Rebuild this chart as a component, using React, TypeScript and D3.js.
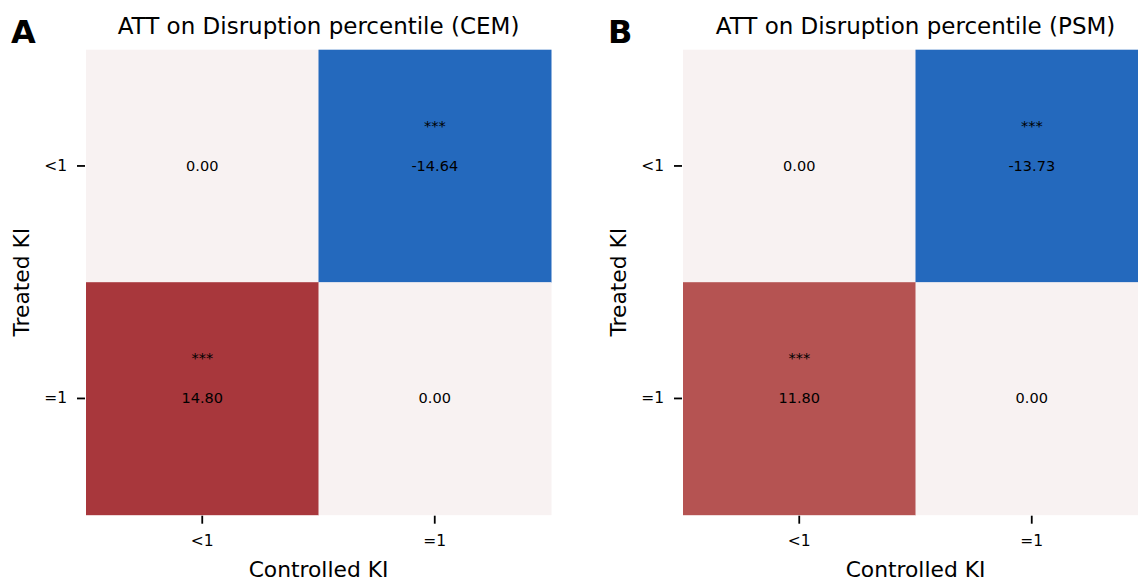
import React from "react";
import * as d3 from "d3";

const rowLabels = ["<1", "=1"];
const colLabels = ["<1", "=1"];
const panelLetters = ["A", "B"];
const panelTitles = [
  "ATT on Disruption percentile (CEM)",
  "ATT on Disruption percentile (PSM)",
];
// values[row][col]
const cemValues = [
  [0.0, -14.64],
  [14.8, 0.0],
];
const psmValues = [
  [0.0, -13.73],
  [11.8, 0.0],
];
const cemStars = [
  ["", "***"],
  ["***", ""],
];
const psmStars = [
  ["", "***"],
  ["***", ""],
];
const xAxisLabel = "Controlled KI";
const yAxisLabel = "Treated KI";

const W = 1138;
const H = 578;
const FONT = "DejaVu Sans, sans-serif";

const color = d3
  .scaleLinear<string>()
  .domain([-13.73, 0, 11.8, 14.8])
  .range(["#2469bd", "#f8f2f2", "#b55352", "#a8373c"])
  .interpolate(d3.interpolateRgb)
  .clamp(true);

function Panel({
  x0,
  values,
  stars,
  letter,
  title,
}: {
  x0: number;
  values: number[][];
  stars: string[][];
  letter: string;
  title: string;
}) {
  const y0 = 49.7;
  const size = 465;
  const xs = d3.scaleBand<string>().domain(colLabels).range([x0, x0 + size]);
  const ys = d3.scaleBand<string>().domain(rowLabels).range([y0, y0 + size]);
  const bw = xs.bandwidth();
  const bh = ys.bandwidth();
  const cx = x0 + size / 2;
  const cy = y0 + size / 2;
  return (
    <g>
      {rowLabels.map((r, i) =>
        colLabels.map((c, j) => (
          <rect
            key={`${i}-${j}`}
            x={xs(c)}
            y={ys(r)}
            width={bw + 0.5}
            height={bh + 0.5}
            fill={color(values[i][j])}
          />
        ))
      )}
      {rowLabels.map((r, i) =>
        colLabels.map((c, j) => {
          const tx = (xs(c) as number) + bw / 2;
          const ty = (ys(r) as number) + bh / 2;
          return (
            <g key={`t-${i}-${j}`} fontFamily={FONT} fontSize={14.5} fill="#000" textAnchor="middle">
              {stars[i][j] && (
                <text x={tx} y={ty - 40} dominantBaseline="central">
                  {stars[i][j]}
                </text>
              )}
              <text x={tx} y={ty} dominantBaseline="central">
                {values[i][j].toFixed(2)}
              </text>
            </g>
          );
        })
      )}
      {/* y ticks */}
      {rowLabels.map((r) => {
        const ty = (ys(r) as number) + bh / 2;
        return (
          <g key={`yt-${r}`}>
            <line x1={x0 - 9} x2={x0 - 1} y1={ty} y2={ty} stroke="#000" strokeWidth={1.8} />
            <text
              x={x0 - 19}
              y={ty}
              textAnchor="end"
              dominantBaseline="central"
              fontFamily={FONT}
              fontSize={15.5}
            >
              {r}
            </text>
          </g>
        );
      })}
      {/* x ticks */}
      {colLabels.map((c) => {
        const tx = (xs(c) as number) + bw / 2;
        return (
          <g key={`xt-${c}`}>
            <line x1={tx} x2={tx} y1={y0 + size + 1} y2={y0 + size + 9} stroke="#000" strokeWidth={1.8} />
            <text
              x={tx}
              y={y0 + size + 26}
              textAnchor="middle"
              dominantBaseline="central"
              fontFamily={FONT}
              fontSize={15.5}
            >
              {c}
            </text>
          </g>
        );
      })}
      <text x={cx} y={34} textAnchor="middle" fontFamily={FONT} fontSize={23}>
        {title}
      </text>
      <text x={cx} y={576.5} textAnchor="middle" fontFamily={FONT} fontSize={21.8}>
        {xAxisLabel}
      </text>
      <text
        transform={`translate(${x0 - 57},${cy}) rotate(-90)`}
        textAnchor="middle"
        fontFamily={FONT}
        fontSize={21.8}
      >
        {yAxisLabel}
      </text>
      <text x={x0 - 75} y={43} fontFamily={FONT} fontSize={32} fontWeight="bold">
        {letter}
      </text>
    </g>
  );
}

export default function App() {
  return (
    <svg width={W} height={H} style={{ display: "block", position: "absolute", left: 0, top: 0 }}>
      <rect width={W} height={H} fill="#fff" />
      <Panel x0={86} values={cemValues} stars={cemStars} letter={panelLetters[0]} title={panelTitles[0]} />
      <Panel x0={683} values={psmValues} stars={psmStars} letter={panelLetters[1]} title={panelTitles[1]} />
    </svg>
  );
}
